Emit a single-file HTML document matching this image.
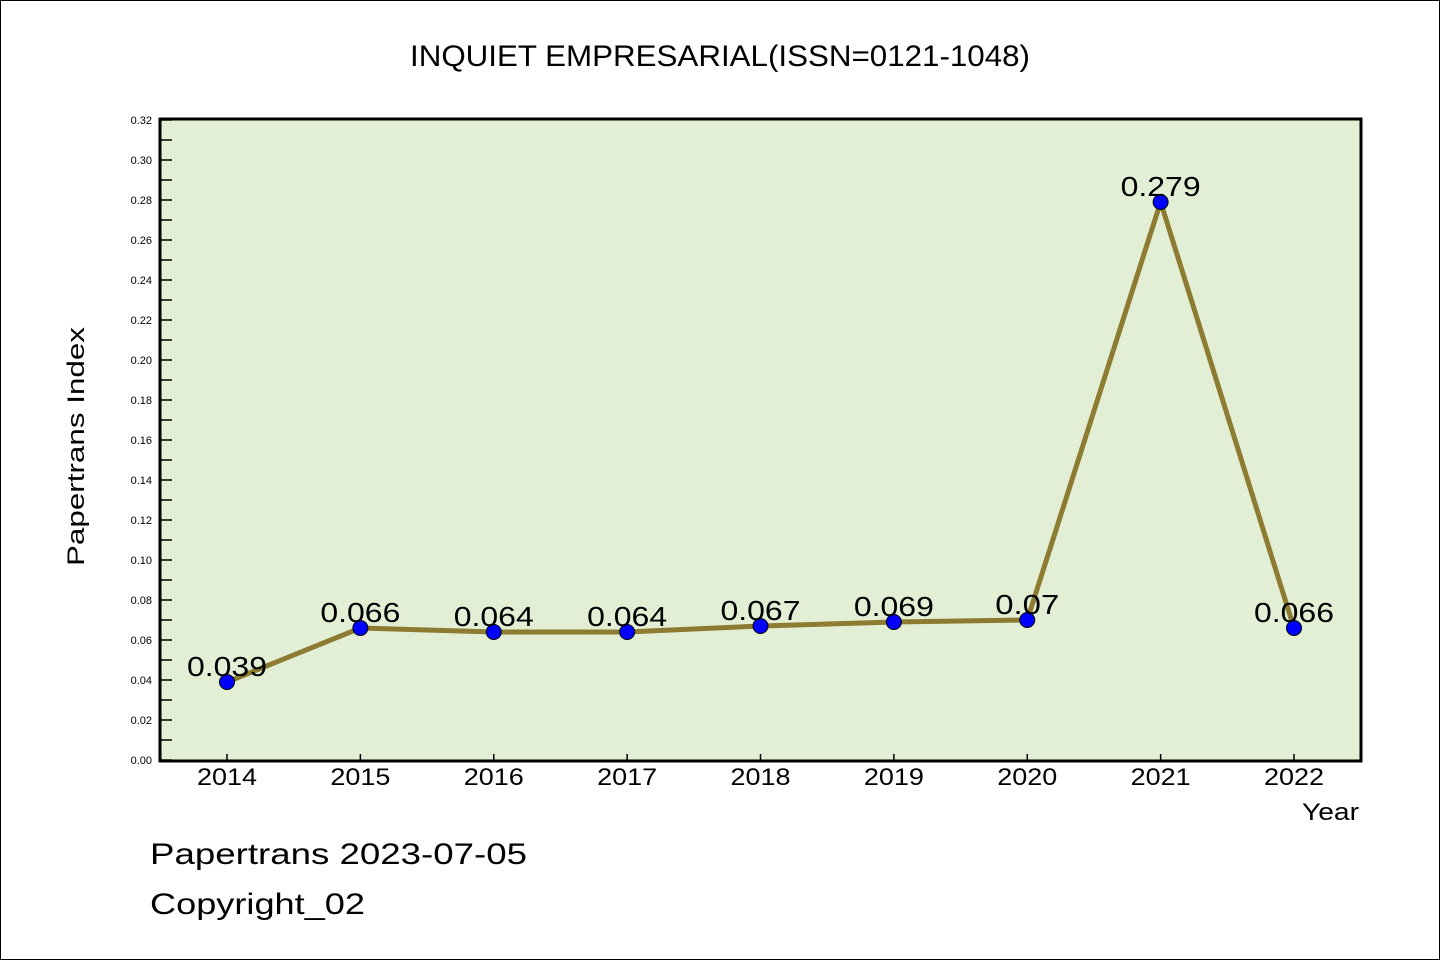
<!DOCTYPE html>
<html><head><meta charset="utf-8"><style>
body{margin:0;background:#fff}
svg{display:block}
text{font-family:"Liberation Sans","WenQuanYi Zen Hei",sans-serif}
</style></head><body>
<svg id="chart" width="1440" height="960" xmlns="http://www.w3.org/2000/svg">
<rect x="0.5" y="0.5" width="1439" height="959" fill="#fff" stroke="#000"/>
<text x="410" y="66" font-size="30" textLength="620" lengthAdjust="spacingAndGlyphs">INQUIET EMPRESARIAL(ISSN=0121-1048)</text>
<rect x="160" y="119" width="1201" height="642" fill="#e2efd5"/>
<g id="yaxis"></g>
<g id="xaxis"></g>
<g id="series"></g>
<rect x="160" y="119" width="1201" height="642" fill="none" stroke="#000" stroke-width="3"/>
<text transform="translate(84,566) rotate(-90)" font-size="24" textLength="239" lengthAdjust="spacingAndGlyphs">Papertrans Index</text>
<text x="1302" y="820" font-size="24" textLength="57" lengthAdjust="spacingAndGlyphs">Year</text>
<text x="150" y="864" font-size="30" textLength="377" lengthAdjust="spacingAndGlyphs">Papertrans 2023-07-05</text>
<text x="150" y="914" font-size="30" textLength="215" lengthAdjust="spacingAndGlyphs">Copyright_02</text>
</svg>
<script>
const years=[2014,2015,2016,2017,2018,2019,2020,2021,2022];
const values=[0.039,0.066,0.064,0.064,0.067,0.069,0.07,0.279,0.066];
const labels=["0.039","0.066","0.064","0.064","0.067","0.069","0.07","0.279","0.066"];
const yTicks=[0,0.02,0.04,0.06,0.08,0.10,0.12,0.14,0.16,0.18,0.20,0.22,0.24,0.26,0.28,0.30,0.32];
const NS="http://www.w3.org/2000/svg";
const xs=i=>227+i*(1294-227)/(years.length-1);
const ys=v=>760-v*2000;
function mk(tag,attrs,parent,txt){const e=document.createElementNS(NS,tag);for(const k in attrs)e.setAttribute(k,attrs[k]);if(txt!==undefined)e.textContent=txt;parent.appendChild(e);return e;}
const ya=document.getElementById('yaxis'),xa=document.getElementById('xaxis'),sg=document.getElementById('series');
yTicks.forEach((t,i)=>{
 const y=ys(t);
 const l=mk('line',{x1:160,x2:172,y1:y,y2:y,stroke:'#000','stroke-width':1.5},ya);
 
 
 const tx=mk('text',{x:152,y:y+4,'font-size':11,'text-anchor':'end'},ya,t.toFixed(2));
 
 
 if(i<yTicks.length-1){const m=ys(t+0.01);
  const ml=mk('line',{x1:160,x2:172,y1:m,y2:m,stroke:'#000','stroke-width':1.5},ya);
  
  }
});
years.forEach((yr,i)=>{
 const x=xs(i);
 const l=mk('line',{x1:x,x2:x,y1:760,y2:754,stroke:'#000','stroke-width':1.5},xa);
 
 
 const t=mk('text',{x:x,y:785,'font-size':24,'text-anchor':'middle',textLength:60,lengthAdjust:'spacingAndGlyphs'},xa,yr);
 
 
});
const pts=values.map((v,i)=>xs(i)+','+ys(v)).join(' ');
const pl=mk('polyline',{points:pts,fill:'none',stroke:'#8c7b30','stroke-width':5},sg);


values.forEach((v,i)=>{
 const c=mk('circle',{cx:xs(i),cy:ys(v),r:7.5,fill:'#0000ff',stroke:'#000','stroke-width':1},sg);
 
 
 const t=mk('text',{x:xs(i),y:ys(v)-6,'font-size':28,'text-anchor':'middle',textLength:labels[i].length*16,lengthAdjust:'spacingAndGlyphs'},sg,labels[i]);
 
 
});
</script>
</body></html>
